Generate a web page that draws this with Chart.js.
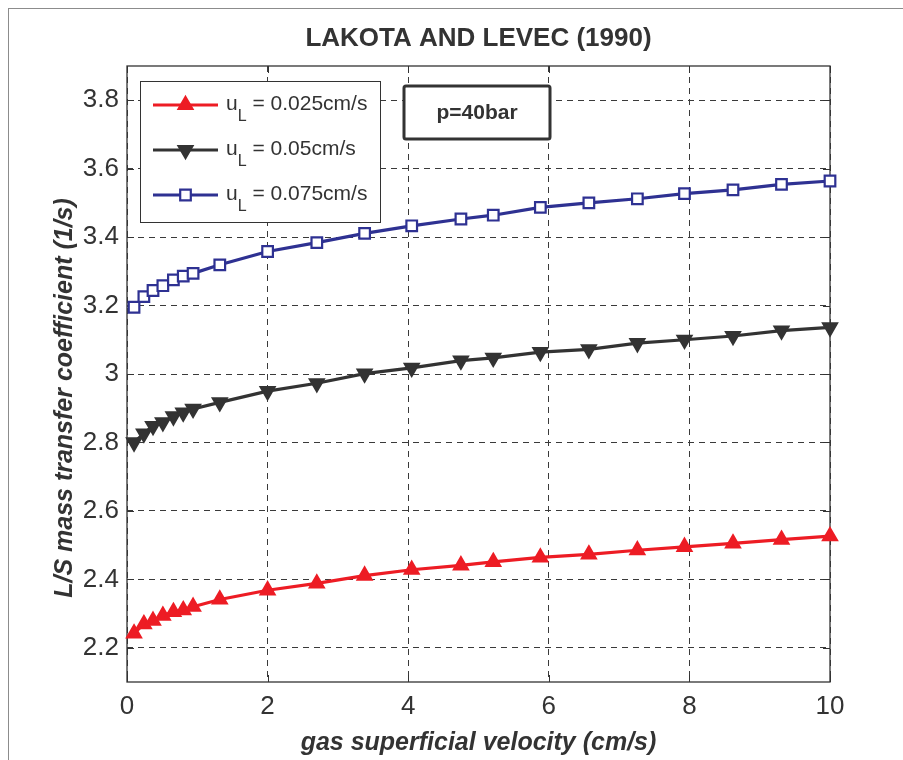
<!DOCTYPE html>
<html>
<head>
<meta charset="utf-8">
<title>Lakota and Levec (1990)</title>
<script src="https://cdn.jsdelivr.net/npm/chart.js@4.4.1/dist/chart.umd.min.js"></script>
<style>
  html, body { margin: 0; padding: 0; background: #fff; overflow: hidden; }
  #wrap { position: relative; width: 903px; height: 760px; }
  #frame { position: absolute; left: 8px; top: 8px; width: 1000px; height: 1000px;
           border: 1px solid #8c8c8c; pointer-events: none; }
  canvas { display: block; }
</style>
</head>
<body>
<div id="wrap">
  <canvas id="chart" width="903" height="760" style="width:903px;height:760px"></canvas>
  <div id="frame"></div>
</div>
<script>
// Gas superficial velocity (cm/s) at which the coefficient was evaluated
const gasVelocity = [0.1, 0.24, 0.37, 0.51, 0.66, 0.8, 0.94, 1.32, 2.0, 2.7, 3.38,
                     4.05, 4.75, 5.21, 5.88, 6.57, 7.26, 7.93, 8.62, 9.31, 10.0];

// Liquid superficial velocities (cm/s), one curve each
const liquidVelocity = [0.025, 0.05, 0.075];

// L/S mass transfer coefficient (1/s)
const kLS_uL025 = [2.242, 2.269, 2.279, 2.294, 2.305, 2.310, 2.320, 2.341, 2.368, 2.388, 2.411,
                   2.428, 2.441, 2.451, 2.464, 2.473, 2.485, 2.495, 2.505, 2.516, 2.526];
const kLS_uL050 = [2.800, 2.826, 2.848, 2.859, 2.876, 2.887, 2.898, 2.917, 2.950, 2.973, 3.001,
                   3.018, 3.039, 3.047, 3.064, 3.072, 3.090, 3.100, 3.111, 3.127, 3.136];
const kLS_uL075 = [3.195, 3.226, 3.244, 3.258, 3.275, 3.286, 3.294, 3.319, 3.358, 3.384, 3.411,
                   3.433, 3.453, 3.464, 3.487, 3.500, 3.512, 3.527, 3.538, 3.554, 3.564];

// Axis ticks
const xTicks = [0, 2, 4, 6, 8, 10];
const yTicks = [2.2, 2.4, 2.6, 2.8, 3.0, 3.2, 3.4, 3.6, 3.8];

const chartTitle = 'LAKOTA AND LEVEC (1990)';
const xTitle = 'gas superficial velocity (cm/s)';
const yTitle = 'L/S mass transfer coefficient (1/s)';
const pressureNote = 'p=40bar';

const FONT = '"Liberation Sans", Arial, Helvetica, sans-serif';
const INK = '#333333';

const toPoints = ys => gasVelocity.map((x, i) => ({ x, y: ys[i] }));

const seriesStyle = [
  { color: '#ED1C24', pointStyle: 'triangle', rotation: 0,   fill: '#ED1C24', r: 8 },
  { color: '#333333', pointStyle: 'triangle', rotation: 180, fill: '#333333', r: 8 },
  { color: '#2E3192', pointStyle: 'rect',     rotation: 0,   fill: '#ffffff', r: 7.5 }
];
const seriesValues = [kLS_uL025, kLS_uL050, kLS_uL075];

const datasets = seriesValues.map((vals, i) => ({
  label: 'uL = ' + liquidVelocity[i] + 'cm/s',
  data: toPoints(vals),
  borderColor: seriesStyle[i].color,
  backgroundColor: seriesStyle[i].color,
  borderWidth: 3.2,
  tension: 0,
  pointStyle: seriesStyle[i].pointStyle,
  pointRotation: seriesStyle[i].rotation,
  pointRadius: seriesStyle[i].r,
  pointBorderWidth: 2.2,
  pointBackgroundColor: seriesStyle[i].fill,
  pointBorderColor: seriesStyle[i].color,
  pointHoverRadius: seriesStyle[i].r,
  clip: false
}));

// Marker painter mirroring Chart.js point geometry
function paintMarker(ctx, style, rotation, r, x, y) {
  if (Chart.helpers && Chart.helpers.drawPoint) {
    Chart.helpers.drawPoint(ctx, { pointStyle: style, rotation, radius: r, borderWidth: ctx.lineWidth }, x, y);
    return;
  }
  ctx.beginPath();
  if (style === 'rect') {
    const s = Math.SQRT1_2 * r;
    ctx.rect(x - s, y - s, 2 * s, 2 * s);
  } else {
    let a = rotation * Math.PI / 180;
    for (let k = 0; k < 3; k++) {
      const px = x + Math.sin(a) * r, py = y - Math.cos(a) * r;
      k ? ctx.lineTo(px, py) : ctx.moveTo(px, py);
      a += 2 * Math.PI / 3;
    }
    ctx.closePath();
  }
  ctx.fill(); ctx.stroke();
}

const decorations = {
  id: 'decorations',
  beforeDatasetsDraw(chart) {
    const { ctx, chartArea: a, scales: { x, y } } = chart;
    ctx.save();
    ctx.strokeStyle = INK;
    ctx.lineWidth = 1;
    const tl = 7;
    ctx.beginPath();
    xTicks.forEach(v => {
      const px = Math.round(x.getPixelForValue(v)) + 0.5;
      ctx.moveTo(px, a.bottom); ctx.lineTo(px, a.bottom - tl);
      ctx.moveTo(px, a.top); ctx.lineTo(px, a.top + tl);
    });
    yTicks.forEach(v => {
      const py = Math.round(y.getPixelForValue(v)) + 0.5;
      ctx.moveTo(a.left, py); ctx.lineTo(a.left + tl, py);
      ctx.moveTo(a.right, py); ctx.lineTo(a.right - tl, py);
    });
    ctx.stroke();
    ctx.lineWidth = 1.3;
    ctx.strokeRect(a.left, a.top, a.right - a.left, a.bottom - a.top);
    ctx.restore();
  },
  afterDraw(chart) {
    const { ctx, chartArea: a } = chart;
    const cx = (a.left + a.right) / 2;
    ctx.save();
    ctx.fillStyle = INK;

    // Chart title
    ctx.font = 'bold 26px ' + FONT;
    ctx.textAlign = 'center';
    ctx.textBaseline = 'middle';
    ctx.fillText(chartTitle, cx, a.top - 27);

    // Axis titles
    ctx.font = 'italic bold 25px ' + FONT;
    ctx.fillText(xTitle, cx, a.bottom + 61);
    ctx.save();
    ctx.translate(a.left - 62, (a.top + a.bottom) / 2 + 24);
    ctx.rotate(-Math.PI / 2);
    ctx.fillText(yTitle, 0, 0);
    ctx.restore();

    // Legend
    const bx = a.left + 13, by = a.top + 15, bw = 240, bh = 141;
    ctx.fillStyle = '#fff';
    ctx.fillRect(bx, by, bw, bh);
    ctx.strokeStyle = INK;
    ctx.lineWidth = 1;
    ctx.strokeRect(bx + 0.5, by + 0.5, bw, bh);
    chart.data.datasets.forEach((ds, i) => {
      const ry = by + 24 + i * 45;
      ctx.strokeStyle = ds.borderColor;
      ctx.lineWidth = ds.borderWidth;
      ctx.beginPath();
      ctx.moveTo(bx + 13, ry); ctx.lineTo(bx + 78, ry);
      ctx.stroke();
      ctx.fillStyle = ds.pointBackgroundColor;
      ctx.strokeStyle = ds.pointBorderColor;
      ctx.lineWidth = ds.pointBorderWidth;
      paintMarker(ctx, ds.pointStyle, ds.pointRotation, ds.pointRadius, bx + 45.5, ry);

      ctx.fillStyle = INK;
      ctx.textAlign = 'left';
      ctx.textBaseline = 'alphabetic';
      let tx = bx + 86;
      ctx.font = '21px ' + FONT;
      ctx.fillText('u', tx, ry + 4.5);
      tx += ctx.measureText('u').width;
      ctx.font = '16px ' + FONT;
      ctx.fillText('L', tx, ry + 16);
      tx += ctx.measureText('L').width;
      ctx.font = '21px ' + FONT;
      ctx.fillText(' = ' + liquidVelocity[i] + 'cm/s', tx, ry + 4.5);
    });

    // Operating pressure note
    const nx = a.left + 277, ny = a.top + 20, nw = 146, nh = 53;
    ctx.fillStyle = '#fff';
    ctx.strokeStyle = INK;
    ctx.lineWidth = 3;
    ctx.beginPath();
    if (ctx.roundRect) ctx.roundRect(nx, ny, nw, nh, 2); else ctx.rect(nx, ny, nw, nh);
    ctx.fill();
    ctx.stroke();
    ctx.fillStyle = INK;
    ctx.font = 'bold 21px ' + FONT;
    ctx.textAlign = 'center';
    ctx.textBaseline = 'middle';
    ctx.fillText(pressureNote, nx + nw / 2, ny + nh / 2 + 1);

    ctx.restore();
  }
};

new Chart(document.getElementById('chart'), {
  type: 'line',
  data: { datasets },
  options: {
    responsive: false,
    animation: false,
    events: [],
    layout: { padding: { left: 0, top: 66, right: 73, bottom: 0 } },
    plugins: { legend: { display: false }, title: { display: false }, tooltip: { enabled: false } },
    scales: {
      x: {
        type: 'linear',
        min: 0, max: 10,
        afterBuildTicks: s => { s.ticks = xTicks.map(v => ({ value: v })); },
        afterFit: s => { s.height = 78; },
        ticks: { color: INK, font: { family: FONT, size: 26 }, padding: 9, maxRotation: 0 },
        grid: { color: '#3a3a3a', lineWidth: 1, drawTicks: false },
        border: { display: false, dash: [6, 5] }
      },
      y: {
        type: 'linear',
        min: 2.1, max: 3.9,
        afterBuildTicks: s => { s.ticks = yTicks.map(v => ({ value: v })); },
        afterFit: s => { s.width = 127; },
        ticks: { color: INK, font: { family: FONT, size: 26 }, padding: 8,
                 callback: v => (Math.round(v * 10) / 10).toString() },
        grid: { color: '#3a3a3a', lineWidth: 1, drawTicks: false },
        border: { display: false, dash: [6, 5] }
      }
    }
  },
  plugins: [decorations]
});
</script>
</body>
</html>
